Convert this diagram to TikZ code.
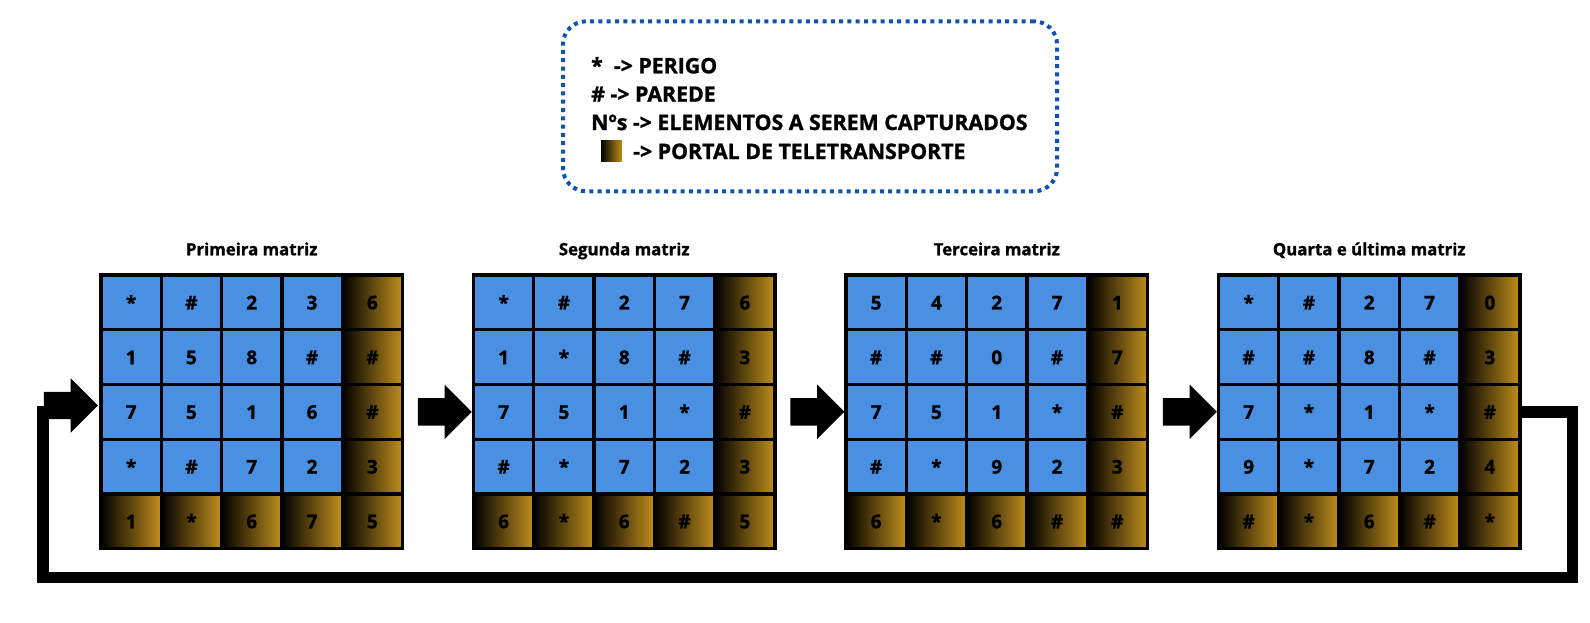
\documentclass[tikz,border=0pt]{standalone}
\usepackage{fontspec}
\setmainfont{Open Sans}
\newfontfamily\heavyfont{Open Sans}[BoldFeatures={FakeBold=1.2}]
\usetikzlibrary{matrix,positioning,shapes.arrows,calc}
\definecolor{cellblue}{RGB}{74,144,226}
\definecolor{portalgold}{RGB}{192,142,28}
\definecolor{boxblue}{RGB}{16,82,178}

\begin{document}
\begin{tikzpicture}[x=1pt, y=-1pt,
        portal/.style={left color=black, right color=portalgold},
        grid/.style={matrix of nodes, inner sep=0pt, outer sep=0pt, column sep=-3.3pt, row sep=-3.3pt,
            nodes={draw=black, line width=3.3pt, fill=cellblue, minimum width=60.3pt, minimum height=54.7pt,
                anchor=center, text height=14pt, text depth=0pt, inner sep=0pt, outer sep=0pt,
                font=\heavyfont\bfseries\fontsize{19}{19}\selectfont},
            column 5/.style={nodes={portal}}, row 5/.style={nodes={portal}}},
        title/.style={inner sep=0pt, text depth=0pt, font=\heavyfont\bfseries\fontsize{16.8}{16.8}\selectfont},
        legendtext/.style={anchor=base west, inner sep=0pt, font=\heavyfont\bfseries\fontsize{21.3}{21.3}\selectfont},
        blockarrow/.style={single arrow, fill=black, inner xsep=0pt, inner ysep=13.5pt, minimum height=54pt,
            single arrow head extend=13.5pt, single arrow tip angle=90, single arrow head indent=0pt},
        loopline/.style={line width=11.5pt, line join=miter}]
    \useasboundingbox (0,0) rectangle (1590,622);

    \node (legend) [draw=boxblue, line width=4pt, dash pattern=on 4pt off 4.3pt, rounded corners=23pt,
        minimum width=494pt, minimum height=170pt] at (810,106.3) {};
    \node (l1) [legendtext] at (591,73.3) {*\ \ -> PERIGO};
    \node (l2) [legendtext] at (591,101.7) {\# -> PAREDE};
    \node (l3) [legendtext] at (591,130) {Nºs -> ELEMENTOS A SEREM CAPTURADOS};
    \node (l4box) [portal, minimum width=21pt, minimum height=21pt, inner sep=0pt] at (611.5,150.5) {};
    \node (l4) [legendtext] at (633,159) {-> PORTAL DE TELETRANSPORTE};

    \matrix (m1) [grid] at (251.75,411.85) {
        * & \# & 2 & 3 & 6 \\
        1 & 5 & 8 & \# & \# \\
        7 & 5 & 1 & 6 & \# \\
        * & \# & 7 & 2 & 3 \\
        1 & * & 6 & 7 & 5 \\
    };
    \matrix (m2) [grid] at (624.25,411.85) {
        * & \# & 2 & 7 & 6 \\
        1 & * & 8 & \# & 3 \\
        7 & 5 & 1 & * & \# \\
        \# & * & 7 & 2 & 3 \\
        6 & * & 6 & \# & 5 \\
    };
    \matrix (m3) [grid] at (996.75,411.85) {
        5 & 4 & 2 & 7 & 1 \\
        \# & \# & 0 & \# & 7 \\
        7 & 5 & 1 & * & \# \\
        \# & * & 9 & 2 & 3 \\
        6 & * & 6 & \# & \# \\
    };
    \matrix (m4) [grid] at (1369.25,411.85) {
        * & \# & 2 & 7 & 0 \\
        \# & \# & 8 & \# & 3 \\
        7 & * & 1 & * & \# \\
        9 & * & 7 & 2 & 4 \\
        \# & * & 6 & \# & * \\
    };

    \node (t1) [title, above=18pt of m1] {Primeira matriz};
    \node (t2) [title, above=18pt of m2] {Segunda matriz};
    \node (t3) [title, above=18pt of m3] {Terceira matriz};
    \node (t4) [title, above=18pt of m4] {Quarta e última matriz};

    \node (a12) [blockarrow] at ($(m1-3-5.east)!0.5!(m2-3-1.west)$) {};
    \node (a23) [blockarrow] at ($(m2-3-5.east)!0.5!(m3-3-1.west)$) {};
    \node (a34) [blockarrow] at ($(m3-3-5.east)!0.5!(m4-3-1.west)$) {};

    \coordinate (cr) at (1572.5,577.5);
    \coordinate (cl) at (43,577.5);
    \node (la) [blockarrow] at (64,405.5) {};
    \draw[loopline] (m4-3-5.east) -| (cr) -- (cl) -- (cl |- la.center);
\end{tikzpicture}
\end{document}
